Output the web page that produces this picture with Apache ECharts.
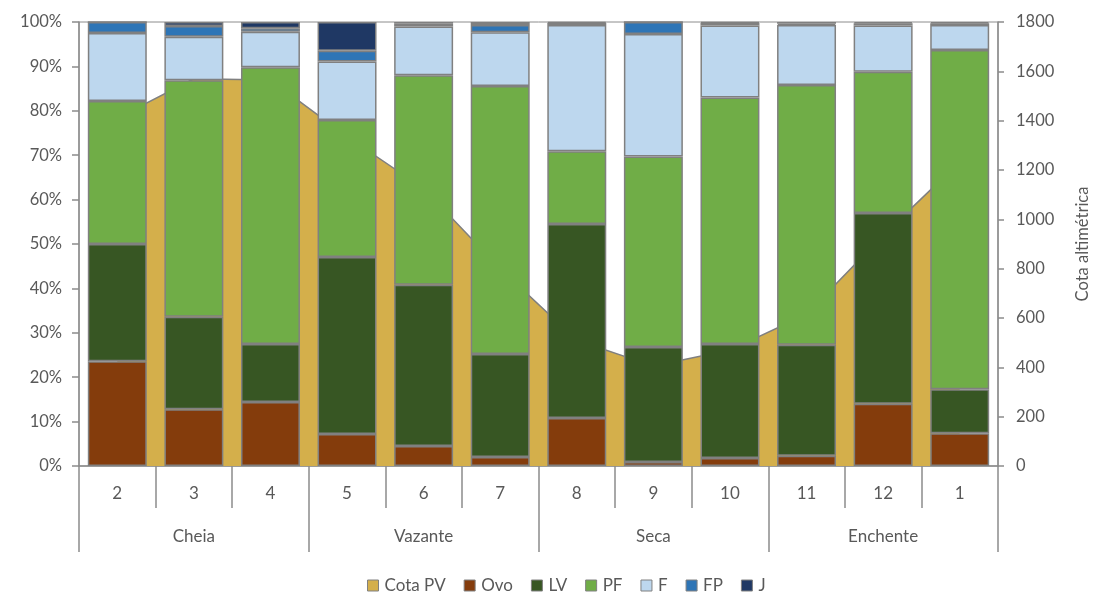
<!DOCTYPE html>
<html>
<head>
<meta charset="utf-8">
<script src="https://cdn.jsdelivr.net/npm/echarts@6/dist/echarts.min.js"></script>
<style>html,body{margin:0;padding:0;background:#fff}#c{width:1094px;height:592px}</style>
</head>
<body>
<div id="c"></div>
<script>
const months = ['2','3','4','5','6','7','8','9','10','11','12','1'];
const seasons = ['Cheia','Vazante','Seca','Enchente'];
const cotaPV = [1410, 1570, 1565, 1335, 1125, 800, 510, 405, 470, 615, 935, 1233];
const ovo = [23.6, 12.8, 14.4, 7.2, 4.5, 2.0, 10.8, 0.9, 1.8, 2.3, 14.0, 7.4];
const lv  = [26.4, 20.8, 13.1, 39.9, 36.3, 23.2, 43.7, 25.9, 25.7, 25.0, 43.0, 9.9];
const pf  = [32.2, 53.3, 62.3, 30.8, 47.2, 60.4, 16.4, 42.9, 55.5, 58.5, 31.8, 76.4];
const f   = [15.3, 9.8, 8.0, 13.2, 11.0, 12.1, 28.4, 27.6, 16.2, 13.5, 10.4, 5.6];
const fp  = [2.5, 2.4, 0.8, 2.4, 0.6, 1.6, 0.5, 2.7, 0.6, 0.3, 0.5, 0.4];
const j   = [0.0, 0.9, 1.4, 6.5, 0.4, 0.7, 0.2, 0.0, 0.2, 0.4, 0.3, 0.3];
const yTicks = [0,10,20,30,40,50,60,70,80,90,100];

const FONT = 'Lato, "Open Sans", sans-serif';
const TXT = '#595959';
const AX = '#8c8c8c';
const BORDER = '#808080';

const chart = echarts.init(document.getElementById('c'), null, {renderer:'canvas'});

function barSeries(name, data, color){
  return {
    name, type:'bar', stack:'s', data, xAxisIndex:0, yAxisIndex:0,
    barCategoryGap:'23%',
    itemStyle:{color, borderColor:BORDER, borderWidth:1.5},
    emphasis:{disabled:true}
  };
}

const colors = {
  'Cota PV':'#D4AF4B','Ovo':'#843C0C','LV':'#375623','PF':'#70AD47','F':'#BDD7EE','FP':'#2E75B6','J':'#1F3864'
};

chart.setOption({
  animation:false,
  backgroundColor:'#fff',
  textStyle:{fontFamily:FONT},
  grid:{left:79, right:96, top:22, bottom:126, show:true, borderColor:AX, borderWidth:1,
        backgroundColor:'transparent', containLabel:false, outerBoundsMode:'none'},
  legend:{
    top:572, left:362, itemWidth:11, itemHeight:11, itemGap:18,
    textStyle:{fontSize:17, color:TXT, fontFamily:FONT, padding:[0,0,0,1]},
    data:Object.keys(colors).map(n=>({name:n, icon:'rect', itemStyle:{color:colors[n], borderColor:BORDER, borderWidth:1}}))
  },
  xAxis:[
    {type:'category', data:months, position:'bottom', boundaryGap:true,
     axisLine:{show:true, lineStyle:{color:AX, width:1.5}},
     axisTick:{show:true, length:42, lineStyle:{color:AX, width:1.5}},
     axisLabel:{fontSize:17, color:TXT, margin:19, fontFamily:FONT},
     splitLine:{show:false}},
    {type:'category', data:seasons, position:'bottom', boundaryGap:true, offset:0,
     axisLine:{show:false},
     axisTick:{show:true, length:86, lineStyle:{color:AX, width:1.5}},
     axisLabel:{fontSize:17, color:TXT, margin:62, fontFamily:FONT},
     splitLine:{show:false}}
  ],
  yAxis:[
    {type:'value', min:0, max:100, interval:10, position:'left',
     axisLine:{show:true, lineStyle:{color:AX, width:1.5}},
     axisTick:{show:true, length:7, lineStyle:{color:AX, width:1.5}},
     axisLabel:{formatter:v=>yTicks.includes(v)?v+'%':'', fontSize:16.5, color:TXT, margin:17, fontFamily:FONT},
     splitLine:{show:false}},
    {type:'value', min:0, max:1800, interval:200, position:'right',
     name:'Cota altimétrica', nameLocation:'middle', nameRotate:90, nameGap:76,
     nameTextStyle:{fontSize:16.5, color:TXT, fontFamily:FONT},
     axisLine:{show:true, lineStyle:{color:AX, width:1.5}},
     axisTick:{show:true, length:6, lineStyle:{color:AX, width:1.5}},
     axisLabel:{formatter:v=>String(v), fontSize:16.5, color:TXT, margin:18, fontFamily:FONT},
     splitLine:{show:false}}
  ],
  series:[
    {name:'Cota PV', type:'line', data:cotaPV, xAxisIndex:0, yAxisIndex:1,
     symbol:'none', smooth:false,
     lineStyle:{color:BORDER, width:1.5},
     itemStyle:{color:colors['Cota PV']},
     areaStyle:{color:colors['Cota PV'], opacity:1}, z:1},
    barSeries('Ovo', ovo, colors['Ovo']),
    barSeries('LV', lv, colors['LV']),
    barSeries('PF', pf, colors['PF']),
    barSeries('F', f, colors['F']),
    barSeries('FP', fp, colors['FP']),
    barSeries('J', j, colors['J'])
  ]
});
</script>
</body>
</html>
